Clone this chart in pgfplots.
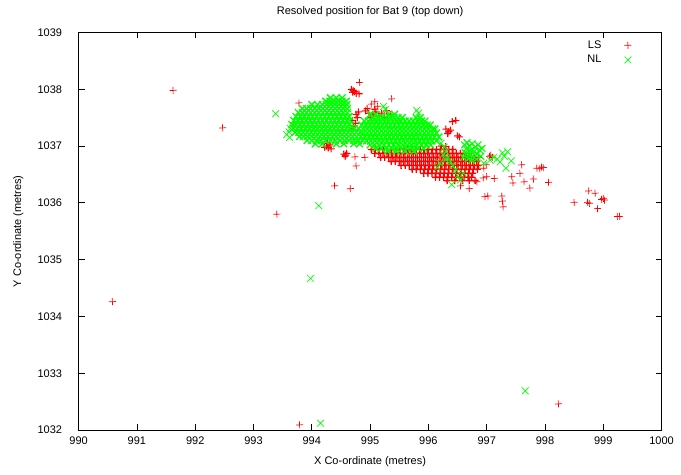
\documentclass[border=0pt]{standalone}
\usepackage{fontspec}
\setmainfont{Liberation Sans}
\usepackage{pgfplots}
\pgfplotsset{compat=1.18}
\usetikzlibrary{calc}
\definecolor{gpred}{rgb}{1,0,0}
\definecolor{gpgreen}{rgb}{0,1,0}
\newcommand{\gpfont}{\fontsize{11}{12}\selectfont}
\pgfplotsset{
 lsstyle/.style={only marks, mark=+, mark size=3.5pt, color=gpred, draw=gpred, mark options={draw=gpred, solid, rotate=2}},
 nlstyle/.style={only marks, mark=x, mark size=4.8pt, color=gpgreen, draw=gpgreen, mark options={draw=gpgreen, solid}},
 myleg/.style={legend image code/.code={\path[draw=none,fill=none] (0cm,0cm) -- (0.98cm,0cm); \draw[mark repeat=2,mark phase=2,##1,only marks] plot coordinates {(0cm,0cm) (0.88cm,0cm) (0.98cm,0cm)};}},
}
\begin{document}
\begin{tikzpicture}
\begin{axis}[
 scale only axis, width=583pt, height=397.5pt,
 xmin=990, xmax=1000, ymin=1032, ymax=1039,
 xtick={990,991,...,1000}, ytick={1032,1033,...,1039},
 minor tick num=0,
 tick align=inside, major tick length=6pt,
 tick style={black, line width=0.8pt},
 axis line style={line width=0.8pt},
 /pgf/number format/1000 sep={},
 /pgf/number format/assume math mode=true,
 ticklabel style={font=\gpfont},
 xticklabel style={yshift=-3.5pt},
 yticklabel style={xshift=-13pt},
 title={Resolved position for Bat 9 (top down)},
 xlabel={X Co-ordinate (metres)},
 ylabel={Y Co-ordinate (metres)},
 every axis title/.style={at={(axis description cs:0.5,1)}, anchor=center, yshift=21pt, font=\gpfont},
 every axis x label/.style={at={(axis description cs:0.5,0)}, anchor=center, yshift=-32pt, font=\gpfont},
 every axis y label/.style={at={(axis description cs:0,0.5)}, xshift=-60.3pt, rotate=90, anchor=center, font=\gpfont},
 legend style={draw=none, fill=none, at={(axis description cs:1,1)}, anchor=north east, xshift=-30pt, yshift=-6.5pt, inner sep=0pt, row sep=2.5pt, nodes={inner sep=1.5pt, font=\gpfont}},
 legend plot pos=right, legend cell align=right, myleg,
]
% LS: scattered positions
\addplot[lsstyle, line width=0.7pt, myleg] coordinates {
(990.58,1034.26) (991.62,1037.98) (992.47,1037.32) (993.40,1035.80) (993.78,1037.76) (993.79,1032.09) (998.23,1032.46)
(993.68,1037.37) (994.39,1036.30) (994.66,1036.25) (994.74,1036.81) (994.76,1036.65) (994.91,1036.80)
(994.82,1038.12) (995.37,1037.83) (995.08,1037.78) (995.02,1037.74) (995.13,1037.70)
(996.83,1036.37) (996.97,1036.11) (997.02,1036.12) (997.26,1036.12) (997.27,1036.03) (997.28,1035.93)
(997.60,1036.67) (997.57,1036.52) (997.45,1036.35) (997.43,1036.46) (997.86,1036.61) (997.94,1036.63) (997.91,1036.60) (997.97,1036.62)
(997.80,1036.42) (997.74,1036.26) (998.06,1036.36) (997.64,1036.37) (996.70,1036.25) (996.55,1036.30)
(998.75,1036.21) (998.86,1036.17) (998.50,1036.01) (998.73,1036.01) (998.76,1035.99) (998.90,1035.90) (999.00,1036.08) (999.02,1036.05) (998.97,1036.06)
(999.28,1035.76) (999.24,1035.76)
(997.07,1036.84) (997.05,1036.82) (997.10,1036.80) (996.99,1036.67) (996.95,1036.61) (997.13,1036.43) (996.94,1036.44) (997.00,1036.46)
};
\addlegendentry{LS}
% LS: small clumps
\addplot[lsstyle, line width=1.1pt, forget plot] coordinates {
(994.68,1038.00) (994.71,1037.98) (994.73,1037.96) (994.70,1037.95) (994.76,1037.93) (994.81,1037.92)
(994.70,1037.45) (994.75,1037.40) (994.78,1037.50) (994.72,1037.35) (994.80,1037.60) (994.76,1037.56) (994.68,1037.30)
(994.92,1037.62) (994.98,1037.58) (995.05,1037.55) (995.10,1037.60) (995.15,1037.52) (995.00,1037.50) (995.20,1037.58)
(995.25,1037.50) (994.95,1037.66) (995.08,1037.65) (995.28,1037.62) (995.35,1037.56)
(994.25,1037.00) (994.28,1036.97) (994.31,1037.02) (994.27,1037.05) (994.33,1036.95) (994.22,1036.98)
(994.55,1036.86) (994.58,1036.84) (994.60,1036.87) (994.57,1036.82)
(996.41,1037.43) (996.47,1037.45) (996.35,1037.25) (996.30,1037.30) (996.38,1037.28) (996.33,1037.22) (996.50,1037.18) (996.53,1037.16)
(996.22,1037.00) (996.30,1036.99)
};
% LS: dense band
\addplot[lsstyle, line width=1.3pt, forget plot] coordinates {
(995.02,1036.94) (995.09,1036.94) (995.16,1036.94) (995.23,1036.94) (995.30,1036.94) (995.37,1036.94) (995.44,1036.94) (995.51,1036.94) (995.58,1036.94) (995.65,1036.94) (995.72,1036.94) (995.79,1036.94) (995.86,1036.94) (995.93,1036.94) (996.00,1036.94) (996.07,1036.94) (996.14,1036.94) (996.21,1036.94) (996.28,1036.94) (996.35,1036.94) (996.42,1036.94)
(995.08,1036.87) (995.15,1036.87) (995.22,1036.87) (995.29,1036.87) (995.36,1036.87) (995.43,1036.87) (995.50,1036.87) (995.57,1036.87) (995.64,1036.87) (995.71,1036.87) (995.78,1036.87) (995.85,1036.87) (995.92,1036.87) (995.99,1036.87) (996.06,1036.87) (996.13,1036.87) (996.20,1036.87) (996.27,1036.87) (996.34,1036.87) (996.41,1036.87) (996.48,1036.87) (996.55,1036.87) (996.62,1036.87) (996.69,1036.87)
(995.18,1036.80) (995.25,1036.80) (995.32,1036.80) (995.39,1036.80) (995.46,1036.80) (995.53,1036.80) (995.60,1036.80) (995.67,1036.80) (995.74,1036.80) (995.81,1036.80) (995.88,1036.80) (995.95,1036.80) (996.02,1036.80) (996.09,1036.80) (996.16,1036.80) (996.23,1036.80) (996.30,1036.80) (996.37,1036.80) (996.44,1036.80) (996.51,1036.80) (996.58,1036.80) (996.65,1036.80) (996.72,1036.80) (996.79,1036.80) (996.86,1036.80)
(995.36,1036.73) (995.43,1036.73) (995.50,1036.73) (995.57,1036.73) (995.64,1036.73) (995.71,1036.73) (995.78,1036.73) (995.85,1036.73) (995.92,1036.73) (995.99,1036.73) (996.06,1036.73) (996.13,1036.73) (996.20,1036.73) (996.27,1036.73) (996.34,1036.73) (996.41,1036.73) (996.48,1036.73) (996.55,1036.73) (996.62,1036.73) (996.69,1036.73) (996.76,1036.73) (996.83,1036.73)
(995.53,1036.66) (995.60,1036.66) (995.67,1036.66) (995.74,1036.66) (995.81,1036.66) (995.88,1036.66) (995.95,1036.66) (996.02,1036.66) (996.09,1036.66) (996.16,1036.66) (996.23,1036.66) (996.30,1036.66) (996.37,1036.66) (996.44,1036.66) (996.51,1036.66) (996.58,1036.66) (996.65,1036.66) (996.72,1036.66) (996.79,1036.66) (996.86,1036.66)
(995.72,1036.59) (995.79,1036.59) (995.86,1036.59) (995.93,1036.59) (996.00,1036.59) (996.07,1036.59) (996.14,1036.59) (996.21,1036.59) (996.28,1036.59) (996.35,1036.59) (996.42,1036.59) (996.49,1036.59) (996.56,1036.59) (996.63,1036.59) (996.70,1036.59) (996.77,1036.59) (996.84,1036.59)
(995.92,1036.52) (995.99,1036.52) (996.06,1036.52) (996.13,1036.52) (996.20,1036.52) (996.27,1036.52) (996.34,1036.52) (996.41,1036.52) (996.48,1036.52) (996.55,1036.52) (996.62,1036.52) (996.69,1036.52) (996.76,1036.52)
(996.12,1036.45) (996.19,1036.45) (996.26,1036.45) (996.33,1036.45) (996.40,1036.45) (996.47,1036.45) (996.54,1036.45) (996.61,1036.45) (996.68,1036.45) (996.74,1036.45)
(996.32,1036.39) (996.45,1036.39) (996.58,1036.39) (996.70,1036.39) (996.80,1036.39)
};
% NL: scattered positions
\addplot[nlstyle, line width=0.7pt, myleg] coordinates {
(993.38,1037.57) (994.12,1035.95) (993.98,1034.67) (994.15,1032.12) (997.66,1032.69)
(996.22,1037.05) (996.27,1036.98) (996.30,1036.90) (996.25,1036.85) (996.33,1036.80) (996.30,1036.76) (996.38,1036.72) (996.42,1036.65) (996.47,1036.58)
(996.40,1036.32) (996.50,1036.48) (996.20,1036.70) (996.15,1036.62)
(997.06,1036.75) (997.12,1036.80) (997.18,1036.77) (997.23,1036.72) (997.27,1036.88) (997.33,1036.61) (997.42,1036.74) (997.36,1036.90) (997.30,1036.82)
(996.55,1036.40) (996.60,1036.52) (996.95,1036.70)
(993.61,1037.25) (993.57,1037.20) (993.63,1037.31) (993.62,1037.15)
(995.83,1037.58) (995.80,1037.63) (995.23,1037.70) (995.26,1037.64)
};
\addlegendentry{NL}
% NL: cluster around 994.2, 1037.4
\addplot[nlstyle, line width=1.3pt, forget plot] coordinates {
(994.32,1037.85) (994.42,1037.85) (994.52,1037.85)
(994.24,1037.79) (994.31,1037.79) (994.38,1037.79) (994.45,1037.79) (994.52,1037.79) (994.59,1037.79)
(994.00,1037.73) (994.10,1037.73) (994.18,1037.73) (994.25,1037.73) (994.32,1037.73) (994.39,1037.73) (994.46,1037.73) (994.53,1037.73) (994.60,1037.73)
(993.84,1037.66) (993.91,1037.66) (993.98,1037.66) (994.05,1037.66) (994.12,1037.66) (994.19,1037.66) (994.26,1037.66) (994.33,1037.66) (994.40,1037.66) (994.47,1037.66) (994.54,1037.66) (994.61,1037.66)
(993.77,1037.59) (993.84,1037.59) (993.91,1037.59) (993.98,1037.59) (994.05,1037.59) (994.12,1037.59) (994.19,1037.59) (994.26,1037.59) (994.33,1037.59) (994.40,1037.59) (994.47,1037.59) (994.54,1037.59) (994.61,1037.59)
(993.73,1037.52) (993.80,1037.52) (993.87,1037.52) (993.94,1037.52) (994.01,1037.52) (994.08,1037.52) (994.15,1037.52) (994.22,1037.52) (994.29,1037.52) (994.36,1037.52) (994.43,1037.52) (994.50,1037.52) (994.57,1037.52) (994.64,1037.52)
(993.69,1037.45) (993.76,1037.45) (993.83,1037.45) (993.90,1037.45) (993.97,1037.45) (994.04,1037.45) (994.11,1037.45) (994.18,1037.45) (994.25,1037.45) (994.32,1037.45) (994.39,1037.45) (994.46,1037.45) (994.53,1037.45) (994.60,1037.45) (994.65,1037.45)
(993.66,1037.38) (993.73,1037.38) (993.80,1037.38) (993.87,1037.38) (993.94,1037.38) (994.01,1037.38) (994.08,1037.38) (994.15,1037.38) (994.22,1037.38) (994.29,1037.38) (994.36,1037.38) (994.43,1037.38) (994.50,1037.38) (994.57,1037.38) (994.64,1037.38)
(993.68,1037.31) (993.75,1037.31) (993.82,1037.31) (993.89,1037.31) (993.96,1037.31) (994.03,1037.31) (994.10,1037.31) (994.17,1037.31) (994.24,1037.31) (994.31,1037.31) (994.38,1037.31) (994.45,1037.31) (994.52,1037.31) (994.59,1037.31) (994.66,1037.31) (994.73,1037.31) (994.80,1037.31)
(993.71,1037.24) (993.78,1037.24) (993.85,1037.24) (993.92,1037.24) (993.99,1037.24) (994.06,1037.24) (994.13,1037.24) (994.20,1037.24) (994.27,1037.24) (994.34,1037.24) (994.41,1037.24) (994.48,1037.24) (994.55,1037.24) (994.62,1037.24) (994.69,1037.24) (994.76,1037.24) (994.83,1037.24)
(993.79,1037.17) (993.86,1037.17) (993.93,1037.17) (994.00,1037.17) (994.07,1037.17) (994.14,1037.17) (994.21,1037.17) (994.28,1037.17) (994.35,1037.17) (994.42,1037.17) (994.49,1037.17) (994.56,1037.17) (994.63,1037.17) (994.70,1037.17) (994.77,1037.17) (994.84,1037.17)
(993.92,1037.10) (994.00,1037.10) (994.08,1037.10) (994.16,1037.10) (994.24,1037.10) (994.32,1037.10) (994.40,1037.10) (994.48,1037.10) (994.56,1037.10) (994.64,1037.10) (994.72,1037.10) (994.80,1037.10) (994.87,1037.10)
(994.06,1037.04) (994.18,1037.04) (994.42,1037.04) (994.55,1037.04) (994.72,1037.04) (994.82,1037.04)
};
% NL: cluster around 995.5, 1037.2
\addplot[nlstyle, line width=1.3pt, forget plot] coordinates {
(995.00,1037.56) (995.10,1037.56) (995.32,1037.56) (995.42,1037.56)
(995.06,1037.50) (995.13,1037.50) (995.20,1037.50) (995.27,1037.50) (995.34,1037.50) (995.41,1037.50) (995.48,1037.50) (995.55,1037.50) (995.79,1037.50) (995.86,1037.50)
(994.90,1037.44) (994.97,1037.44) (995.04,1037.44) (995.11,1037.44) (995.18,1037.44) (995.25,1037.44) (995.32,1037.44) (995.39,1037.44) (995.46,1037.44) (995.53,1037.44) (995.60,1037.44) (995.67,1037.44) (995.74,1037.44) (995.81,1037.44) (995.88,1037.44) (995.94,1037.44)
(994.86,1037.37) (994.93,1037.37) (995.00,1037.37) (995.07,1037.37) (995.14,1037.37) (995.21,1037.37) (995.28,1037.37) (995.35,1037.37) (995.42,1037.37) (995.49,1037.37) (995.56,1037.37) (995.63,1037.37) (995.70,1037.37) (995.77,1037.37) (995.84,1037.37) (995.91,1037.37) (995.98,1037.37) (996.03,1037.37)
(994.88,1037.30) (994.95,1037.30) (995.02,1037.30) (995.09,1037.30) (995.16,1037.30) (995.23,1037.30) (995.30,1037.30) (995.37,1037.30) (995.44,1037.30) (995.51,1037.30) (995.58,1037.30) (995.65,1037.30) (995.72,1037.30) (995.79,1037.30) (995.86,1037.30) (995.93,1037.30) (996.00,1037.30) (996.07,1037.30) (996.11,1037.30)
(994.88,1037.23) (994.95,1037.23) (995.02,1037.23) (995.09,1037.23) (995.16,1037.23) (995.23,1037.23) (995.30,1037.23) (995.37,1037.23) (995.44,1037.23) (995.51,1037.23) (995.58,1037.23) (995.65,1037.23) (995.72,1037.23) (995.79,1037.23) (995.86,1037.23) (995.93,1037.23) (996.00,1037.23) (996.07,1037.23) (996.14,1037.23)
(994.91,1037.16) (994.98,1037.16) (995.05,1037.16) (995.12,1037.16) (995.19,1037.16) (995.26,1037.16) (995.33,1037.16) (995.40,1037.16) (995.47,1037.16) (995.54,1037.16) (995.61,1037.16) (995.68,1037.16) (995.75,1037.16) (995.82,1037.16) (995.89,1037.16) (995.96,1037.16) (996.03,1037.16) (996.10,1037.16) (996.18,1037.16)
(994.94,1037.09) (995.01,1037.09) (995.08,1037.09) (995.15,1037.09) (995.22,1037.09) (995.29,1037.09) (995.36,1037.09) (995.43,1037.09) (995.50,1037.09) (995.57,1037.09) (995.64,1037.09) (995.71,1037.09) (995.78,1037.09) (995.85,1037.09) (995.92,1037.09) (995.99,1037.09) (996.06,1037.09) (996.14,1037.09)
(995.00,1037.02) (995.08,1037.02) (995.16,1037.02) (995.24,1037.02) (995.32,1037.02) (995.40,1037.02) (995.48,1037.02) (995.56,1037.02) (995.64,1037.02) (995.72,1037.02) (995.80,1037.02) (995.88,1037.02) (995.96,1037.02) (996.04,1037.02)
(995.10,1036.96) (995.19,1036.96) (995.28,1036.96) (995.37,1036.96) (995.46,1036.96) (995.55,1036.96) (995.64,1036.96) (995.73,1036.96) (995.82,1036.96) (995.92,1036.96)
(995.30,1036.91) (995.45,1036.91) (995.60,1036.91) (995.75,1036.91)
};
% NL: cluster around 996.75, 1036.9
\addplot[nlstyle, line width=1.1pt, forget plot] coordinates {
(996.62,1037.02) (996.66,1037.06) (996.70,1037.00) (996.75,1037.04) (996.80,1036.98) (996.85,1037.02) (996.65,1036.95) (996.72,1036.92) (996.78,1036.90)
(996.88,1036.93) (996.92,1036.96) (996.63,1036.88) (996.70,1036.85) (996.76,1036.82) (996.84,1036.86) (996.90,1036.82) (996.68,1036.78) (996.74,1036.75) (996.82,1036.77) (996.60,1036.80)
};
\end{axis}
\path ($(current axis.south west)+(-78.6pt,-44pt)$) rectangle ($(current axis.north east)+(19.4pt,32.5pt)$);
\end{tikzpicture}
\end{document}
